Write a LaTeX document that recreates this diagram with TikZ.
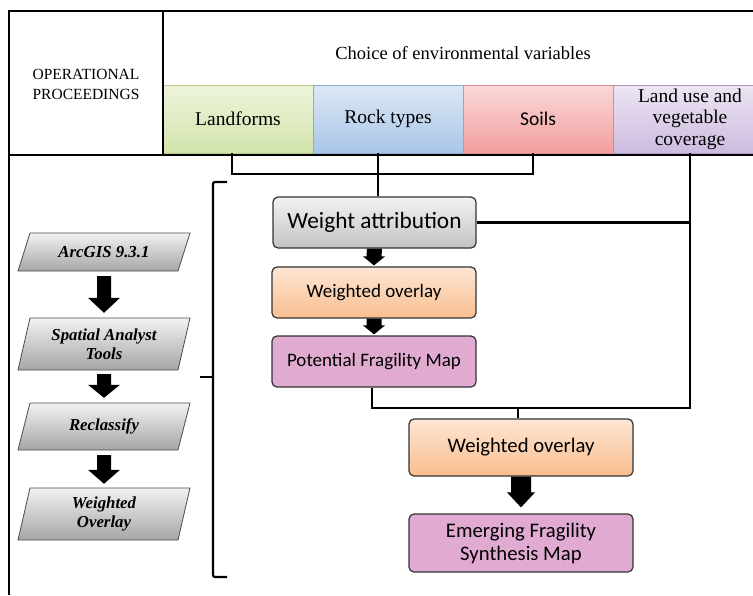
\documentclass[tikz,border=0pt]{standalone}
\usepackage{fontspec}
\setmainfont{Liberation Serif}
\newfontfamily\calfont{Carlito}
\usetikzlibrary{calc}
\definecolor{lfT}{HTML}{EEF4DC}\definecolor{lfB}{HTML}{D2E4AC}\definecolor{lfD}{HTML}{B8CC8C}
\definecolor{rtT}{HTML}{DDE8F5}\definecolor{rtB}{HTML}{A9C5E8}\definecolor{rtD}{HTML}{8FAAD0}
\definecolor{soT}{HTML}{FBD8D8}\definecolor{soB}{HTML}{F29E9E}\definecolor{soD}{HTML}{E08C8C}
\definecolor{luT}{HTML}{EDE5F3}\definecolor{luB}{HTML}{CDBBDF}\definecolor{luD}{HTML}{A898C0}
\definecolor{orT}{HTML}{FDE6D5}\definecolor{orB}{HTML}{F9BE8E}
\definecolor{grT}{HTML}{F2F2F2}\definecolor{grB}{HTML}{C3C3C3}
\definecolor{pk}{HTML}{E0AAD1}
\newcommand\blockarrow[5]{%
  \fill[black] ($(#1)+(-#3,0)$) -- ($(#2)+(-#3,-#5)$) -- ($(#2)+(-#4,-#5)$) -- (#2)
    -- ($(#2)+(#4,-#5)$) -- ($(#2)+(#3,-#5)$) -- ($(#1)+(#3,0)$) -- cycle;}
% #1 name, #2 cx, #3 cy, #4 height, #5 text
\newcommand\parabox[5]{%
  \shade[parafill] ({#2-74},{#3-#4/2}) -- ({#2+86},{#3-#4/2}) -- ({#2+74},{#3+#4/2})
    -- ({#2-86},{#3+#4/2}) -- cycle;
  \node[paratext, minimum height=#4pt] (#1) at (#2,#3) {#5};}
\begin{document}
\begin{tikzpicture}[x=1pt,y=-1pt,
  frame/.style={line width=1.6pt, black},
  conn/.style={line width=2.6pt, black, line join=miter},
  bracestyle/.style={line width=2.2pt, black, rounded corners=2pt},
  cell/.style={minimum width=150pt, minimum height=68pt, inner sep=0pt, line width=0.7pt,
    font=\fontsize{19.5}{21.5}\selectfont, align=center},
  gbox/.style={rounded corners=5pt, draw=black!80, line width=1.2pt, inner sep=0pt,
    align=center, font=\calfont\fontsize{19}{23}\selectfont},
  parafill/.style={draw=black!70, line width=0.8pt, top color=grT, bottom color=black!35},
  paratext/.style={font=\bfseries\itshape\fontsize{16.8}{18.5}\selectfont,
    align=center, inner sep=0pt, minimum width=160pt}
]
\useasboundingbox (0,0) rectangle (753,595);
\clip (0,0) rectangle (753,595);
% header
\node[font=\fontsize{15.5}{20}\selectfont, align=center] (op) at (86,84) {OPERATIONAL\\PROCEEDINGS};
\node[font=\fontsize{18.5}{22}\selectfont] (ch) at (463,53) {Choice of environmental variables};
\node[cell, draw=lfD, top color=lfT, bottom color=lfB] (lf) at (238,119) {Landforms};
\node[cell, draw=rtD, top color=rtT, bottom color=rtB] (rt) at (388,119) {Rock types};
\node[cell, draw=soD, top color=soT, bottom color=soB, font=\calfont\fontsize{19.5}{22}\selectfont] (so) at (538,119) {Soils};
\node[cell, draw=luD, top color=luT, bottom color=luB, minimum width=154pt] (lu) at (690,119) {Land use and\\vegetable\\coverage};
% frame
\draw[frame] (9,595) -- (9,11) -- (753,11);
\draw[frame] (163,11) -- (163,155);
\draw[frame, line width=2pt] (9,155) -- (753,155);
% left column
\parabox{p1}{104}{252}{38}{ArcGIS 9.3.1}
\parabox{p2}{104}{344}{52}{Spatial Analyst\\Tools}
\parabox{p3}{104}{426.5}{47}{Reclassify}
\parabox{p4}{104}{514}{52}{Weighted\\Overlay}
\coordinate (a1s) at ([yshift=-5pt]p1.south); \coordinate (a1e) at ([yshift=5pt]p2.north);
\coordinate (a2s) at ([yshift=-4pt]p2.south); \coordinate (a2e) at ([yshift=5pt]p3.north);
\coordinate (a3s) at ([yshift=-5pt]p3.south); \coordinate (a3e) at ([yshift=4pt]p4.north);
\blockarrow{a1s}{a1e}{7}{16}{15}
\blockarrow{a2s}{a2e}{7}{16}{13}
\blockarrow{a3s}{a3e}{7}{16}{14}
% brace
\draw[bracestyle] (227,182) -- (213,182) -- (213,577) -- (227,577);
\draw[bracestyle] (213,377) -- (200,377);
% right column
\node[gbox, minimum width=203pt, minimum height=51pt, top color=grT, bottom color=grB,
  font=\calfont\fontsize{23.3}{26}\selectfont] (wa) at (374.5,222.5) {Weight attribution};
\node[gbox, minimum width=204pt, minimum height=51pt, top color=orT, bottom color=orB] (wo1) at (374,292.5) {Weighted overlay};
\node[gbox, minimum width=204pt, minimum height=51pt, fill=pk] (pfm) at (374,361.5) {Potential Fragility Map};
\node[gbox, minimum width=224pt, minimum height=57pt, top color=orT, bottom color=orB,
  font=\calfont\fontsize{20.7}{23}\selectfont] (wo2) at (521,447.5) {Weighted overlay};
\node[gbox, minimum width=224pt, minimum height=58pt, fill=pk,
  font=\calfont\fontsize{20.7}{23}\selectfont] (ef) at (521,543) {Emerging Fragility\\Synthesis Map};
% connectors
\coordinate (bar) at (0,174);
\coordinate (jn) at (0,408);
\draw[conn] ([xshift=-6pt]lf.south) |- ([xshift=-5pt]so.south |- bar) -- ([xshift=-5pt]so.south);
\draw[conn] ([xshift=3.5pt]wa.north |- rt.south) -- ([xshift=3.5pt]wa.north);
\draw[conn] (wa.east) -- (wa.east -| lu.south);
\draw[conn] (lu.south) |- ([xshift=-2pt]pfm.south |- jn) -- ([xshift=-2pt]pfm.south);
\draw[conn] ([xshift=-3pt]wo2.north |- jn) -- ([xshift=-3pt]wo2.north);
% block arrows right
\coordinate (r1s) at (wa.south); \coordinate (r1e) at ([yshift=1pt]wo1.north);
\coordinate (r2s) at (wo1.south); \coordinate (r2e) at ([yshift=1pt]pfm.north);
\coordinate (r3s) at (wo2.south); \coordinate (r3e) at ([yshift=6pt]ef.north);
\blockarrow{r1s}{r1e}{7.5}{11}{9}
\blockarrow{r2s}{r2e}{7.5}{11}{9}
\blockarrow{r3s}{r3e}{10}{14}{15}
\end{tikzpicture}
\end{document}
